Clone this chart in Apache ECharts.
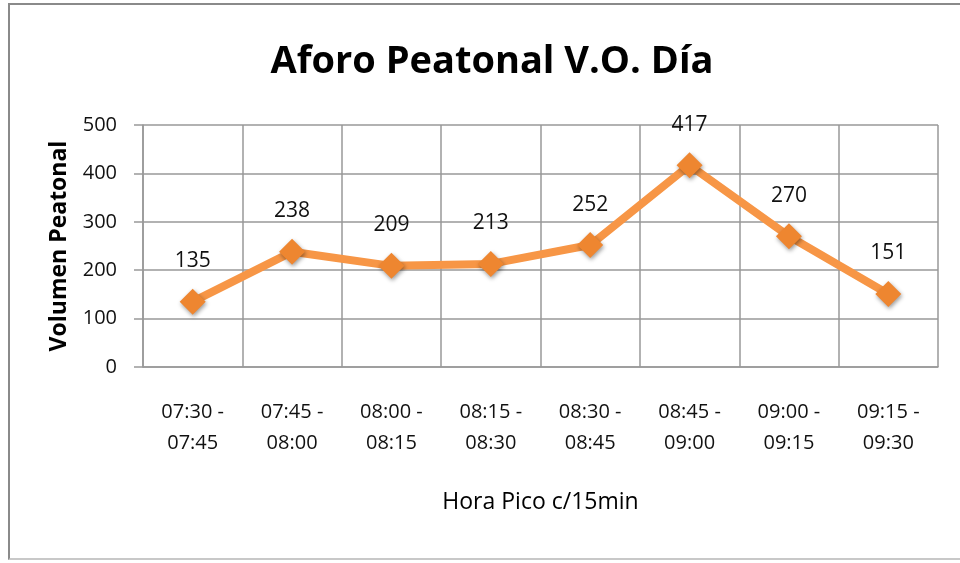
<!DOCTYPE html>
<html><head><meta charset="utf-8">
<script src="https://cdn.jsdelivr.net/npm/echarts@6/dist/echarts.min.js"></script>
<style>html,body{margin:0;padding:0;background:#fff}#c{width:960px;height:563px}
#frame{position:absolute;left:8px;top:3px;width:960px;height:557px;border-left:2px solid #8a8a8a;border-top:2px solid #8a8a8a;border-bottom:2px solid #c8c8c8;box-sizing:border-box;pointer-events:none}</style>
</head><body><div id="c"></div><div id="frame"></div>
<script>
const categories = ['07:30 -\n07:45','07:45 -\n08:00','08:00 -\n08:15','08:15 -\n08:30','08:30 -\n08:45','08:45 -\n09:00','09:00 -\n09:15','09:15 -\n09:30'];
const values = [135,238,209,213,252,417,270,151];
const titleText = 'Aforo Peatonal V.O. Día';
const yName = 'Volumen Peatonal';
const xName = 'Hora Pico c/15min';
const FONT = '"Open Sans",sans-serif';
const chart = echarts.init(document.getElementById('c'));
chart.setOption({
  animation:false,
  title:{text:titleText,left:487,textAlign:'center',top:38,textStyle:{fontFamily:FONT,fontSize:38,fontWeight:'bold',color:'#000'}},
  grid:{left:143,right:22,top:125,bottom:196},
  xAxis:{type:'category',data:categories,boundaryGap:true,
    name:xName,nameLocation:'middle',nameGap:124,nameTextStyle:{fontFamily:FONT,fontSize:23,fontWeight:500,color:'#000'},
    axisLine:{lineStyle:{color:'#999',width:1.5}},axisTick:{show:false},
    splitLine:{show:true,lineStyle:{color:'#999',width:1.5}},
    axisLabel:{fontFamily:FONT,fontSize:20,color:'#111',margin:30,lineHeight:31,interval:0}},
  yAxis:{type:'value',min:0,max:500,interval:100,
    name:yName,nameLocation:'middle',nameGap:72,nameTextStyle:{fontFamily:FONT,fontSize:23,fontWeight:'bold',color:'#000'},
    axisLine:{show:true,lineStyle:{color:'#999',width:1.5}},axisTick:{show:true,length:9,lineStyle:{color:'#999',width:1.5}},
    splitLine:{lineStyle:{color:'#999',width:1.5}},
    axisLabel:{fontFamily:FONT,fontSize:20,color:'#111',margin:26}},
  series:[{type:'line',data:values,symbol:'diamond',symbolSize:26,
    lineStyle:{color:'#F79646',width:8},
    itemStyle:{color:'#EE8630',shadowBlur:4,shadowColor:'rgba(0,0,0,0.4)',shadowOffsetX:1,shadowOffsetY:2},
    label:{show:true,position:'top',distance:17,fontFamily:FONT,fontSize:21,color:'#111'}}]
});
</script></body></html>
